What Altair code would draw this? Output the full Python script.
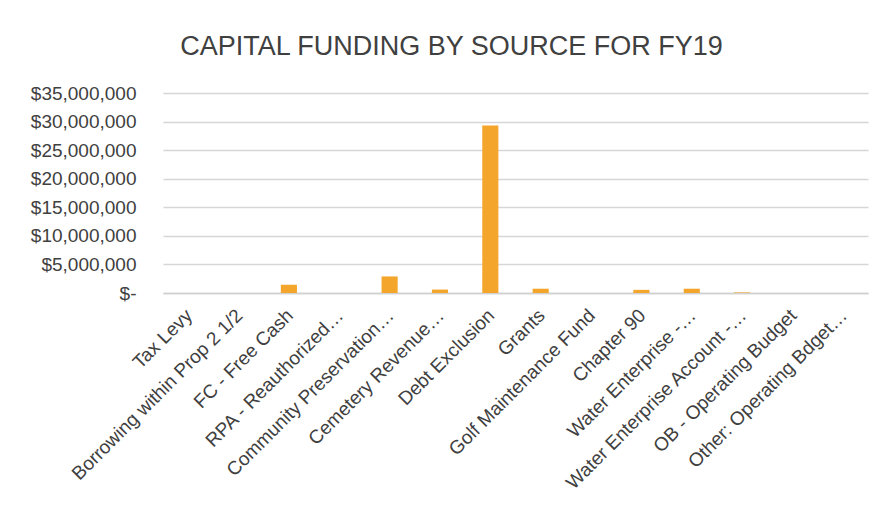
import altair as alt
import pandas as pd

categories = [
    "Tax Levy",
    "Borrowing within Prop 2 1/2",
    "FC - Free Cash",
    "RPA - Reauthorized…",
    "Community Preservation…",
    "Cemetery Revenue…",
    "Debt Exclusion",
    "Grants",
    "Golf Maintenance Fund",
    "Chapter 90",
    "Water Enterprise -…",
    "Water Enterprise Account -…",
    "OB - Operating Budget",
    "Other: Operating Bdget…",
]
amounts = [0, 0, 1450000, 0, 2900000, 600000, 29300000, 750000, 0, 550000, 750000, 100000, 0, 0]
y_ticks = [0, 5000000, 10000000, 15000000, 20000000, 25000000, 30000000, 35000000]

df = pd.DataFrame({"source": categories, "amount": amounts})

chart = alt.Chart(df).mark_bar(color="#F3A62B").encode(
    x=alt.X(
        "source:N",
        sort=categories,
        title=None,
        scale=alt.Scale(paddingInner=0.68, paddingOuter=0.34),
        axis=alt.Axis(
            labelAngle=-45,
            labelAlign="right",
            labelBaseline="middle",
            labelPadding=19,
            labelOffset=1,
            labelFont="Liberation Sans",
            labelFontSize=19,
            labelColor="#404040",
            ticks=False,
            grid=False,
            domainColor="#D0D0D0",
            domainWidth=1.5,
            labelLimit=400,
            labelOverlap=False,
        ),
    ),
    y=alt.Y(
        "amount:Q",
        title=None,
        scale=alt.Scale(domain=[0, 35000000], nice=False),
        axis=alt.Axis(
            values=y_ticks,
            labelExpr="datum.value == 0 ? '$-\u00a0\u00a0' : '$' + format(datum.value, ',')",
            labelFont="Liberation Sans",
            labelFontSize=19,
            labelColor="#404040",
            labelPadding=27,
            ticks=False,
            domain=False,
            gridColor="#D6D6D6",
            gridWidth=1.5,
        ),
    ),
).properties(
    width=705,
    height=200,
    background="white",
    title=alt.TitleParams(
        "CAPITAL FUNDING BY SOURCE FOR FY19",
        font="Liberation Sans",
        fontSize=27,
        fontWeight="normal",
        color="#404040",
        anchor="middle",
        dx=-64,
        offset=23,
    ),
    autosize=alt.AutoSizeParams(type="none"),
    padding={"left": 163, "top": 93, "right": 23, "bottom": 221},
).configure_view(strokeWidth=0, stroke="transparent")

chart.save("out.html", embed_options={"renderer": "svg", "actions": False})
